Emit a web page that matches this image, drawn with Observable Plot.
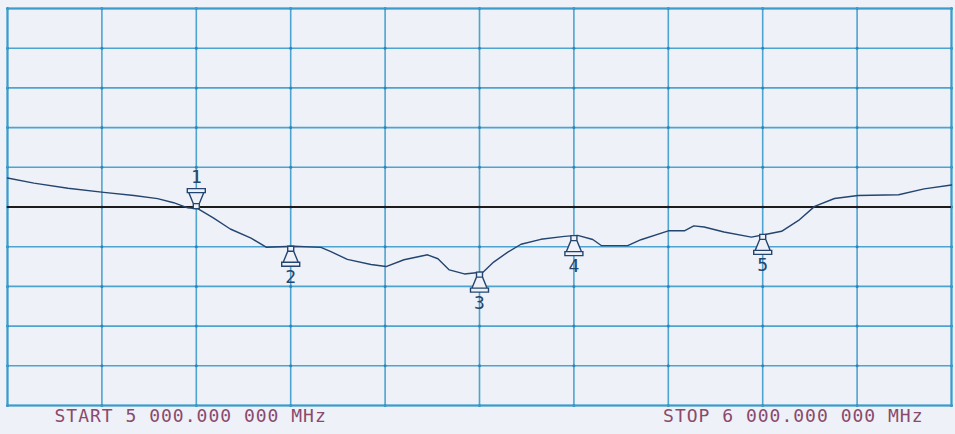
<!DOCTYPE html>
<html>
<head>
<meta charset="utf-8">
<script src="https://cdn.jsdelivr.net/npm/d3@7"></script>
<script src="https://cdn.jsdelivr.net/npm/@observablehq/plot@0.6"></script>
<style>
  html, body { margin: 0; padding: 0; background: #eef1f8; }
  #chart { width: 955px; height: 434px; overflow: hidden; }
</style>
</head>
<body>
<div id="chart"></div>
<script>
// Frequency sweep (MHz) and S11 log-magnitude (dB)
const freqMHz = [5000, 5028, 5064, 5102, 5134, 5159, 5176, 5191, 5202, 5218, 5236, 5258, 5274, 5303, 5332,
  5342, 5360, 5385, 5401, 5420, 5445, 5456, 5468, 5484, 5504, 5515, 5530, 5544, 5565, 5590,
  5604, 5620, 5629, 5657, 5671, 5700, 5717, 5727, 5738, 5759, 5788, 5804, 5820, 5838, 5855,
  5876, 5901, 5944, 5971, 6000];
const s11dB = [-6.35, -6.99, -7.64, -8.16, -8.55, -8.94, -9.46, -10.1, -10.23, -11.37, -12.77, -13.92, -15.06, -14.94, -15.08,
  -15.59, -16.6, -17.24, -17.5, -16.64, -16.02, -16.52, -17.92, -18.43, -18.19, -16.94, -15.68, -14.69, -14.07, -13.7,
  -13.58, -14.09, -14.85, -14.86, -14.12, -13.0, -13.0, -12.38, -12.52, -13.15, -13.8, -13.43, -13.06, -11.69, -9.92,
  -8.93, -8.56, -8.46, -7.72, -7.23];

// Markers
const markerFreq = [5200, 5300, 5500, 5600, 5800];
const markerDb = [-10.2, -14.95, -18.2, -13.6, -13.45];
const markerLabel = ["1", "2", "3", "4", "5"];
const markerAbove = [true, false, false, false, false];

// Scale settings: REF -10 dB, 5 dB/div, 10 divisions
const refDb = -10;
const dbTicks = [-35, -30, -25, -20, -15, -10, -5, 0, 5, 10, 15];
const freqTicks = [5000, 5100, 5200, 5300, 5400, 5500, 5600, 5700, 5800, 5900, 6000];
const startLabel = "START 5 000.000 000 MHz";
const stopLabel = "STOP 6 000.000 000 MHz";

const trace = freqMHz.map((f, i) => ({f, db: s11dB[i]}));
const markers = markerFreq.map((f, i) => ({f, db: markerDb[i], label: markerLabel[i], above: markerAbove[i]}));
const crossings = freqTicks.flatMap(f => dbTicks.map(db => ({f, db})));

const gridColor = "#3b9bcb";
const traceColor = "#23456f";
const bg = "#eef1f8";

function markerPath(s) {
  return {
    draw(ctx) {
      ctx.moveTo(-3, 0); ctx.lineTo(-3, s * 5); ctx.lineTo(-7.5, s * 16); ctx.lineTo(7.5, s * 16); ctx.lineTo(3, s * 5); ctx.lineTo(3, 0); ctx.closePath();
      ctx.moveTo(-9, s * 16); ctx.lineTo(9, s * 16); ctx.lineTo(9, s * 20); ctx.lineTo(-9, s * 20); ctx.closePath();
      ctx.moveTo(-3, s * 5); ctx.lineTo(3, s * 5);
    }
  };
}
const symbolUp = markerPath(1);
const symbolDown = markerPath(-1);

const chart = Plot.plot({
  width: 955,
  height: 434,
  marginLeft: 7,
  marginRight: 4,
  marginTop: 8,
  marginBottom: 29,
  style: {background: bg},
  x: {domain: [5000, 6000], axis: null},
  y: {domain: [-35, 15], axis: null},
  marks: [
    Plot.ruleX(freqTicks, {stroke: gridColor, strokeWidth: 1.6, strokeOpacity: 0.9}),
    Plot.ruleY(dbTicks, {stroke: gridColor, strokeWidth: 1.6, strokeOpacity: 0.9}),
    Plot.dot(crossings, {x: "f", y: "db", r: 1.5, fill: "#2a86b8", stroke: null}),
    Plot.frame({stroke: gridColor, strokeWidth: 2}),
    Plot.ruleY([refDb], {stroke: "#1c1c1c", strokeWidth: 1.8}),
    Plot.line(trace, {x: "f", y: "db", stroke: traceColor, strokeWidth: 1.4}),
    Plot.dot(markers.filter(d => !d.above), {x: "f", y: "db", symbol: symbolUp, r: 5, fill: bg, stroke: traceColor, strokeWidth: 1.4}),
    Plot.dot(markers.filter(d => d.above), {x: "f", y: "db", symbol: symbolDown, r: 5, fill: bg, stroke: traceColor, strokeWidth: 1.4}),
    Plot.text(markers.filter(d => !d.above), {x: "f", y: "db", text: "label", dy: 31, fill: traceColor, fontSize: 18, fontFamily: "DejaVu Sans Mono"}),
    Plot.text(markers.filter(d => d.above), {x: "f", y: "db", text: "label", dy: -31, fill: traceColor, fontSize: 18, fontFamily: "DejaVu Sans Mono"}),
    Plot.text([startLabel], {frameAnchor: "bottom-left", text: d => d, textAnchor: "start", dx: 47, dy: 16, fill: "#8a4a6c", fontSize: 18, fontFamily: "DejaVu Sans Mono"}),
    Plot.text([stopLabel], {frameAnchor: "bottom-right", text: d => d, textAnchor: "end", dx: -28, dy: 16, fill: "#8a4a6c", fontSize: 18, fontFamily: "DejaVu Sans Mono"})
  ]
});
chart.querySelectorAll("text").forEach(t => { if (t.textContent.includes("MHz")) t.setAttribute("letter-spacing", "1"); });
document.getElementById("chart").appendChild(chart);
</script>
</body>
</html>
